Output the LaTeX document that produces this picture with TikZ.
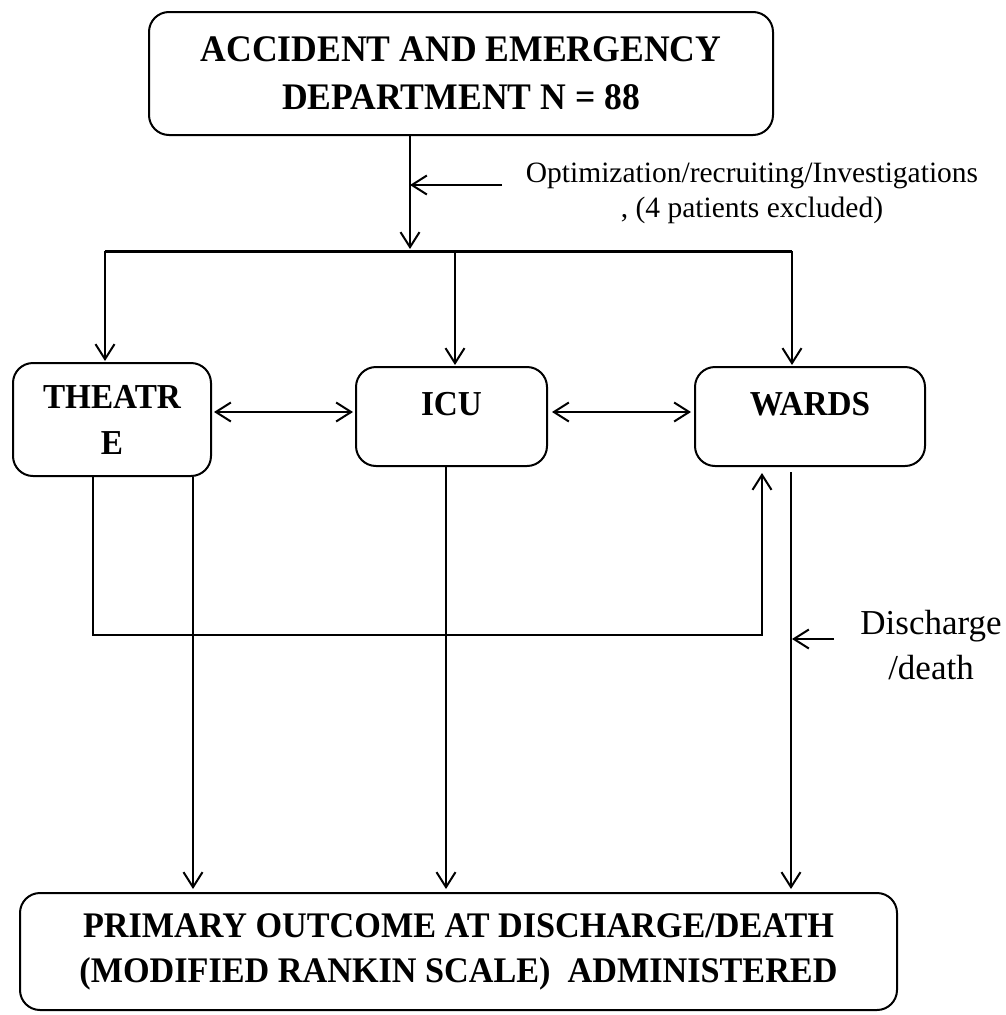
\documentclass[tikz,border=0pt]{standalone}
\usepackage{fontspec}
\setmainfont{Liberation Serif}
\newfontfamily\boxfont{Liberation Serif}[FakeStretch=0.95]
\usetikzlibrary{arrows.meta}

\begin{document}
\begin{tikzpicture}[x=1pt, y=-1pt, line width=2pt,
  box/.style={draw, rounded corners=20pt, align=center, inner sep=0pt,
    font=\boxfont\fontsize{35}{46}\selectfont\bfseries},
  onebox/.style={box, text height=25pt, text depth=28pt},
  arr/.style={-{Straight Barb[length=15pt,width=19pt]}},
  dblarr/.style={{Straight Barb[length=15pt,width=19pt]}-{Straight Barb[length=15pt,width=19pt]}}]
\useasboundingbox (0,0) rectangle (1006,1015);

% boxes
\node[box, minimum width=624pt, minimum height=123pt,
  font=\boxfont\fontsize{37.5}{48}\selectfont\bfseries] (ae) at (461,73.5)
  {ACCIDENT AND EMERGENCY\\DEPARTMENT N = 88};
\node[box, minimum width=198pt, minimum height=113pt] (theatre) at (112,419.5) {THEATR\\E};
\node[onebox, minimum width=191pt, minimum height=99pt] (icu) at (451.5,416.5) {ICU};
\node[onebox, minimum width=230pt, minimum height=99pt] (wards) at (810,416.5) {WARDS};
\node[box, minimum width=877pt, minimum height=117pt,
  font=\boxfont\fontsize{36}{45}\selectfont\bfseries] (out) at (458.5,951.5)
  {PRIMARY OUTCOME AT DISCHARGE/DEATH\\(MODIFIED RANKIN SCALE)\ \ ADMINISTERED};

% side notes
\node[align=center, font=\fontsize{29.5}{35}\selectfont] (opt) at (752,193.5)
  {Optimization/recruiting/Investigations\\, (4 patients excluded)};
\node[align=center, font=\fontsize{35}{45}\selectfont] (disc) at (931,645.5)
  {Discharge\\/death};

\coordinate (split) at (410,249);
\coordinate (optin) at (502,185);
\coordinate (busL) at (105,251);
\coordinate (busR) at (792,251);
\coordinate (icuin) at (455,251);
\coordinate (lnk) at (0,412);
\coordinate (back) at (93,635);
\coordinate (backR) at (762,635);
\coordinate (dis) at (834,639);
\coordinate (wdown) at (791,639);

\draw[arr] (ae.south -| split) -- (split);
\draw[arr] (optin) -- (optin -| split);
\draw[line width=3pt] (busL) -- (busR);
\foreach \b/\c in {theatre/busL, icu/icuin, wards/busR}
  \draw[arr, shorten >=1pt] (\c) -- (\b.north -| \c);

\draw[dblarr, shorten <=2pt, shorten >=2pt] (theatre.east |- lnk) -- (icu.west |- lnk);
\draw[dblarr, shorten <=4pt, shorten >=3pt] (icu.east |- lnk) -- (wards.west |- lnk);

\draw[arr, shorten >=6pt] (theatre.south -| back) -- (back) -- (backR) -- (wards.south -| backR);
\foreach \b/\x in {theatre/193, icu/446}
  \draw[arr, shorten >=3pt] (\b.south -| \x,0) -- (out.north -| \x,0);
\draw[arr, shorten <=5pt, shorten >=3pt] (wards.south -| wdown) -- (out.north -| wdown);
\draw[arr, shorten >=1pt] (dis) -- (wdown);
\end{tikzpicture}
\end{document}
